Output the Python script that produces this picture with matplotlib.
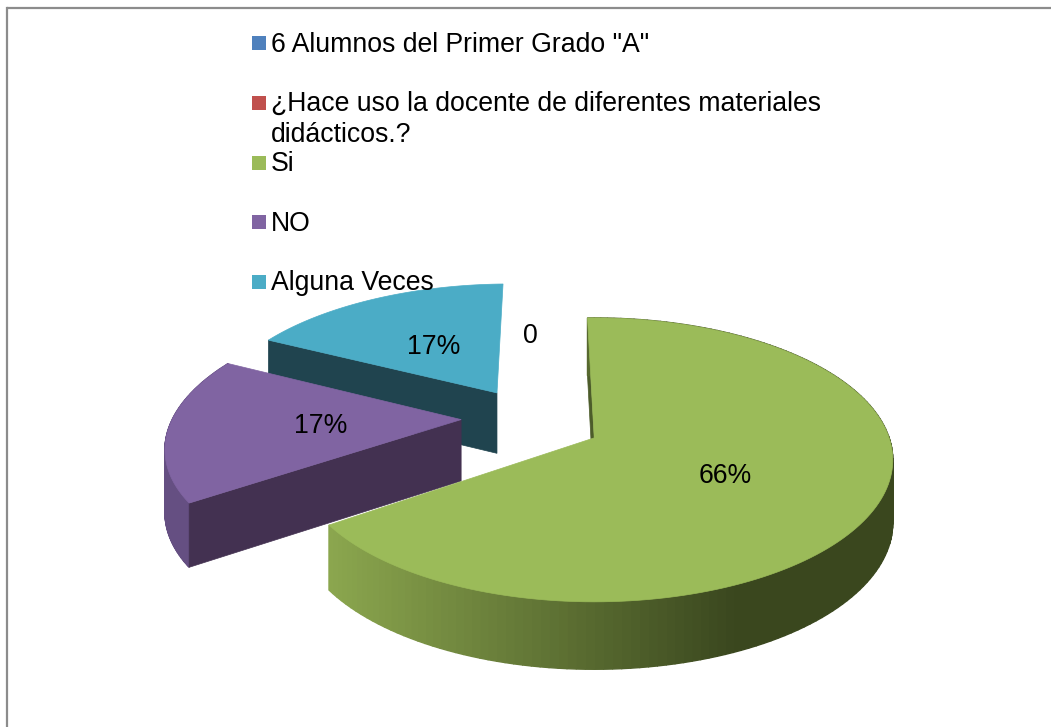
import numpy as np
import matplotlib
matplotlib.use("Agg")
import matplotlib.pyplot as plt
from matplotlib.colors import to_rgb
from matplotlib.patches import Polygon, Rectangle

plt.rcParams["font.family"] = ["Liberation Sans", "DejaVu Sans"]

# data
legend_labels = [
    '6 Alumnos del Primer Grado "A"',
    "¿Hace uso la docente de diferentes materiales",
    "didácticos.?",
    "Si",
    "NO",
    "Alguna Veces",
]
legend_colors = ["#4f81bd", "#c0504d", None, "#9bbb59", "#8064a2", "#4bacc6"]
slice_names = ["Si", "NO", "Alguna Veces"]
slice_values = [65.7, 17.15, 17.15]
slice_labels = ["66%", "17%", "17%"]
zero_label = "0"

# pie geometry, pixels of the 1051x727 picture
PX, PY = 594, 438      # apex of the green slice
RX, RY = 295, 138.6    # radii before perspective
PERSP = 0.155
DEPTH = 62
EXPLODE = 0.25
START = -1.5
GREEN_APEX_SHIFT = np.array([-0.2225, 0.1135])
SLICE_NUDGE = [(0, 0), (0.012, 0.04), (0.01, 0.018)]


def project(u, v, drop=0.0):
    w = 1 + PERSP * v
    return PX + RX * u / w, PY - RY * v / w + drop / np.sqrt(w)


def mix(a, b, t):
    a, b = to_rgb(a), to_rgb(b)
    return tuple(x + (y - x) * t for x, y in zip(a, b))


def slice_outline(a0, a1, apex):
    th = np.radians(np.linspace(a0, a1, 160))
    return apex[0] + np.sin(th), apex[1] + np.cos(th)


def draw_wall(ax, apex, angle, color):
    th = np.radians(angle)
    ue, ve = apex[0] + np.sin(th), apex[1] + np.cos(th)
    pts = [project(apex[0], apex[1]), project(ue, ve),
           project(ue, ve, DEPTH), project(apex[0], apex[1], DEPTH)]
    ax.add_patch(Polygon(pts, closed=True, fc=color, ec=color, lw=0.5))


def draw_rim(ax, us, vs, colorfn):
    for i in range(len(us) - 1):
        xa, ya = project(us[i], vs[i])
        xb, yb = project(us[i + 1], vs[i + 1])
        xc, yc = project(us[i + 1], vs[i + 1], DEPTH)
        xd, yd = project(us[i], vs[i], DEPTH)
        c = colorfn((xa + xb) / 2)
        ax.add_patch(Polygon([(xa, ya), (xb, yb), (xc, yc), (xd, yd)],
                             closed=True, fc=c, ec=c, lw=1.0))


def green_rim(x):
    t = np.clip((x - 331) / (735 - 331), 0, 1)
    return mix("#8ba64e", "#3a471e", t)


def draw_top(ax, apex, us, vs, color):
    top = [project(apex[0], apex[1])] + [project(u, v) for u, v in zip(us, vs)]
    ax.add_patch(Polygon(top, closed=True, fc=color, ec=color, lw=0.5))


fig = plt.figure(figsize=(10.51, 7.27), dpi=100)
ax = fig.add_axes([0, 0, 1, 1])
ax.set_xlim(0, 1051)
ax.set_ylim(727, 0)
ax.axis("off")

# chart frame, the picture cuts it off at the bottom and right
ax.plot([7, 7], [727, 8], color="#8c8c8c", lw=1.6, solid_capstyle="projecting")
ax.plot([7, 1051], [8, 8], color="#8c8c8c", lw=1.6, solid_capstyle="butt")

total = sum(slice_values)
spans = [v / total * 360 for v in slice_values]
starts = [START + sum(spans[:i]) for i in range(len(spans))]
apexes = []
for a0, sp, nudge in zip(starts, spans, SLICE_NUDGE):
    mid = np.radians(a0 + sp / 2)
    apexes.append(GREEN_APEX_SHIFT + np.array(nudge)
                  + EXPLODE * np.array([np.sin(mid), np.cos(mid)]))

si_i, no_i, al_i = 0, 1, 2
top_colors = {si_i: "#9bbb59", no_i: "#8064a2", al_i: "#4bacc6"}
wall_colors = {si_i: "#4c5c2a", no_i: "#433151", al_i: "#20444f"}

# teal slice, then purple, then green in front
a0, sp = starts[al_i], spans[al_i]
draw_wall(ax, apexes[al_i], a0, wall_colors[al_i])
us, vs = slice_outline(a0, a0 + sp, apexes[al_i])
draw_top(ax, apexes[al_i], us, vs, top_colors[al_i])

a0, sp = starts[no_i], spans[no_i]
us, vs = slice_outline(a0, a0 + sp, apexes[no_i])
draw_rim(ax, us, vs, lambda x: "#654f82")
draw_wall(ax, apexes[no_i], a0, wall_colors[no_i])
draw_top(ax, apexes[no_i], us, vs, top_colors[no_i])

a0, sp = starts[si_i], spans[si_i]
draw_wall(ax, apexes[si_i], a0, wall_colors[si_i])
us, vs = slice_outline(a0, a0 + sp, apexes[si_i])
draw_rim(ax, us, vs, green_rim)
draw_top(ax, apexes[si_i], us, vs, top_colors[si_i])

# legend, the second entry wraps on two lines
legend_base = [52, 111, 142, 171, 231, 290]
legend_box = [43, 103, None, 163, 222, 282]
for lab, col, y, by in zip(legend_labels, legend_colors, legend_base, legend_box):
    if col is not None:
        ax.add_patch(Rectangle((252, by - 7), 14, 14, fc=col, ec="none"))
    ax.text(271, y, lab, fontsize=19.2, va="baseline", ha="left", color="black")

# data labels
label_pos = [(725, 483), (320.5, 433), (434, 354)]
for lab, (x, y) in zip(slice_labels, label_pos):
    ax.text(x, y, lab, fontsize=19.2, ha="center", va="baseline", color="black")
ax.text(530, 343, zero_label, fontsize=19.2, ha="center", va="baseline", color="black")

fig.savefig("out.png", dpi=100)
